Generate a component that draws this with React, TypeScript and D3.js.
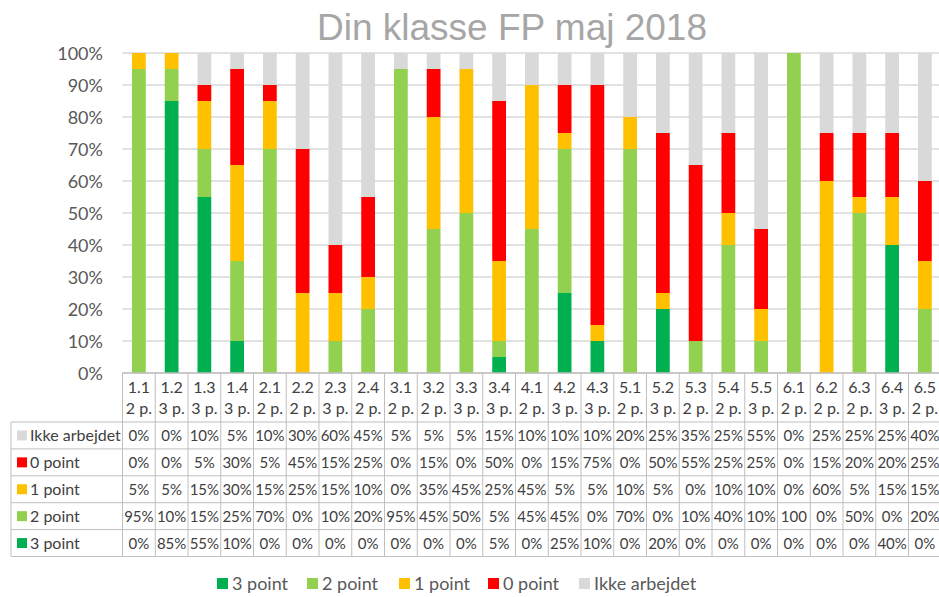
import React from 'react'
import * as d3 from 'd3'

const categories = ['1.1', '1.2', '1.3', '1.4', '2.1', '2.2', '2.3', '2.4', '3.1', '3.2', '3.3', '3.4', '4.1', '4.2', '4.3', '5.1', '5.2', '5.3', '5.4', '5.5', '6.1', '6.2', '6.3', '6.4', '6.5']
const maxPoints = ['2 p.', '3 p.', '3 p.', '3 p.', '2 p.', '2 p.', '3 p.', '2 p.', '2 p.', '2 p.', '3 p.', '3 p.', '2 p.', '3 p.', '3 p.', '2 p.', '3 p.', '2 p.', '2 p.', '3 p.', '2 p.', '2 p.', '2 p.', '3 p.', '2 p.']

const point3 = [0, 85, 55, 10, 0, 0, 0, 0, 0, 0, 0, 5, 0, 25, 10, 0, 20, 0, 0, 0, 0, 0, 0, 40, 0]
const point2 = [95, 10, 15, 25, 70, 0, 10, 20, 95, 45, 50, 5, 45, 45, 0, 70, 0, 10, 40, 10, 100, 0, 50, 0, 20]
const point1 = [5, 5, 15, 30, 15, 25, 15, 10, 0, 35, 45, 25, 45, 5, 5, 10, 5, 0, 10, 10, 0, 60, 5, 15, 15]
const point0 = [0, 0, 5, 30, 5, 45, 15, 25, 0, 15, 0, 50, 0, 15, 75, 0, 50, 55, 25, 25, 0, 15, 20, 20, 25]
const ikke = [0, 0, 10, 5, 10, 30, 60, 45, 5, 5, 5, 15, 10, 10, 10, 20, 25, 35, 25, 55, 0, 25, 25, 25, 40]

const yTicks = [0, 10, 20, 30, 40, 50, 60, 70, 80, 90, 100]

// bottom-to-top stacking order
const series = [
  { name: '3 point', values: point3, color: '#00b050' },
  { name: '2 point', values: point2, color: '#92d050' },
  { name: '1 point', values: point1, color: '#ffc000' },
  { name: '0 point', values: point0, color: '#ff0000' },
  { name: 'Ikke arbejdet', values: ikke, color: '#d9d9d9' },
]

const font = 'Lato, Carlito, Calibri, sans-serif'

const App = () => {
  const width = 939
  const height = 597
  const plotLeft = 122.5
  const step = 32.75
  const plotRight = plotLeft + step * categories.length
  const x = d3.scaleBand().domain(categories).range([plotLeft, plotRight]).padding(0)
  const y = d3.scaleLinear().domain([0, 100]).range([373, 53])
  const barW = step * 0.42

  const rows = categories.map((c, i) => {
    const r: any = { cat: c }
    series.forEach(s => { r[s.name] = s.values[i] })
    return r
  })
  const stack = d3.stack().keys(series.map(s => s.name))(rows)

  const headerBottom = 422
  const rowH = 26.9
  const tableRows = [...series].reverse()
  const tableLeft = 11
  const tableBottom = headerBottom + rowH * tableRows.length
  const fmt = (v: number) => (v === 100 ? '100' : v + '%')

  const legendX = [217, 307, 399, 488, 579]

  return (
    <svg width={width} height={height} style={{ position: 'absolute', left: 0, top: 0, background: '#fff' }}>
      <text x={512} y={40} textAnchor="middle" fontFamily="'Liberation Sans', Arial, sans-serif" fontSize={37} fill="#a6a6a6">Din klasse FP maj 2018</text>

      {yTicks.map(t => (
        <g key={t}>
          <line x1={plotLeft} x2={width} y1={y(t)} y2={y(t)} stroke="#d9d9d9" strokeWidth={1.3} />
          <text x={103} y={y(t) + 6.5} textAnchor="end" fontFamily={font} fontSize={18} fill="#595959">{t}%</text>
        </g>
      ))}

      {stack.map((layer, si) => (
        <g key={si} fill={series[si].color}>
          {layer.map((d, i) => (d[1] - d[0] > 0 ?
            <rect key={i} x={x(categories[i])! + (step - barW) / 2} y={y(d[1])} width={barW} height={y(d[0]) - y(d[1])} /> : null))}
        </g>
      ))}

      {/* data table */}
      <g fontFamily={font} fontSize={15} fill="#404040">
        {categories.map((c, i) => (
          <g key={c}>
            <text x={x(c)! + step / 2} y={393} textAnchor="middle" fontSize={16}>{c}</text>
            <text x={x(c)! + step / 2} y={414} textAnchor="middle" fontSize={16}>{maxPoints[i]}</text>
          </g>
        ))}
        {tableRows.map((s, ri) => {
          const top = headerBottom + ri * rowH
          return (
            <g key={s.name}>
              <rect x={17} y={top + rowH / 2 - 5} width={10} height={10} fill={s.color} />
              <text x={30} y={top + rowH / 2 + 5.5} fontSize={16}>{s.name}</text>
              {s.values.map((v, i) => (
                <text key={i} x={x(categories[i])! + step / 2} y={top + rowH / 2 + 5.5} textAnchor="middle">{fmt(v)}</text>
              ))}
            </g>
          )
        })}
      </g>
      <g stroke="#bfbfbf" strokeWidth={1}>
        {d3.range(tableRows.length + 1).map(k => (
          <line key={k} x1={tableLeft} x2={width} y1={headerBottom + k * rowH} y2={headerBottom + k * rowH} />
        ))}
        <line x1={tableLeft} x2={tableLeft} y1={headerBottom} y2={tableBottom} />
        {categories.map(c => (
          <line key={c} x1={x(c)} x2={x(c)} y1={y(0)} y2={tableBottom} />
        ))}
      </g>
      <line x1={plotLeft} x2={width} y1={y(0)} y2={y(0)} stroke="#bfbfbf" strokeWidth={1.3} />

      {/* legend */}
      <g fontFamily={font} fontSize={18} fill="#595959">
        {series.map((s, i) => (
          <g key={s.name}>
            <rect x={legendX[i]} y={578} width={11} height={11} fill={s.color} />
            <text x={legendX[i] + 15} y={590}>{s.name}</text>
          </g>
        ))}
      </g>
    </svg>
  )
}

export default App
